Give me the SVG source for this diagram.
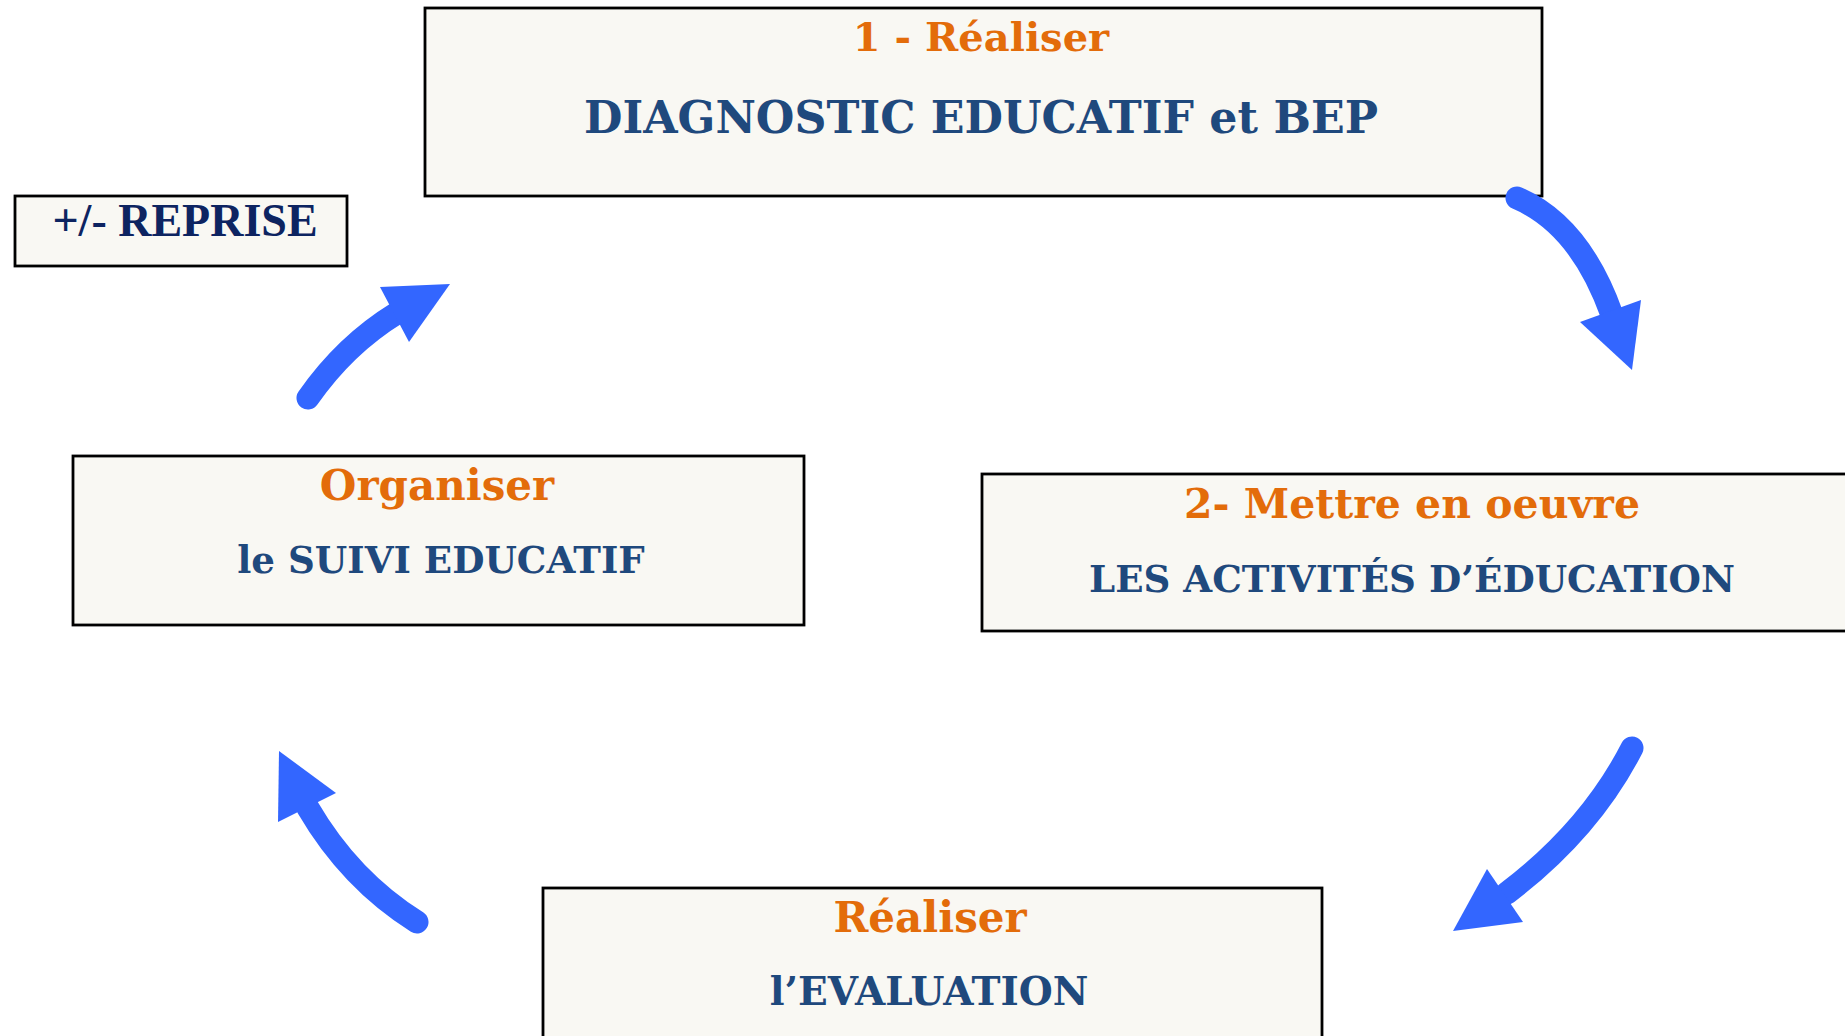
<svg xmlns="http://www.w3.org/2000/svg" width="1845" height="1036" viewBox="0 0 1845 1036">
<style>
.box{fill:#f9f8f3;stroke:#000;stroke-width:2.8}
.t1{font-family:"DejaVu Serif",serif;font-weight:bold;fill:#e36c0a;text-anchor:middle}
.t2{font-family:"DejaVu Serif",serif;font-weight:bold;fill:#1f497d;text-anchor:middle}
.rep{font-family:"Liberation Serif","Times New Roman",serif;font-weight:bold;fill:#0d2461;text-anchor:middle}
.shaft{fill:none;stroke:#3366ff;stroke-width:23;stroke-linecap:round}
.head{fill:#3366ff}
</style>
<rect width="1845" height="1036" fill="#fff"/>
<g id="node-diagnostic">
<rect class="box" x="425" y="8" width="1117" height="188"/>
<text class="t1" x="981" y="51" font-size="40">1 - Réaliser</text>
<text class="t2" x="981" y="133" font-size="44.3">DIAGNOSTIC EDUCATIF et BEP</text>
</g>
<g id="node-reprise">
<rect class="box" x="15" y="196" width="332" height="70"/>
<text class="rep" x="185" y="236" font-size="46">+/- REPRISE</text>
</g>
<g id="node-suivi">
<rect class="box" x="73" y="456" width="731" height="169"/>
<text class="t1" x="437" y="500" font-size="42">Organiser</text>
<text class="t2" x="441" y="573" font-size="37.2">le SUIVI EDUCATIF</text>
</g>
<g id="node-activites">
<rect class="box" x="982" y="474" width="870" height="157"/>
<text class="t1" x="1412" y="518" font-size="41">2- Mettre en oeuvre</text>
<text class="t2" x="1412" y="592" font-size="37.2">LES ACTIVITÉS D’ÉDUCATION</text>
</g>
<g id="node-evaluation">
<rect class="box" x="543" y="888" width="779" height="160"/>
<text class="t1" x="930" y="932" font-size="42">Réaliser</text>
<text class="t2" x="929" y="1005" font-size="39">l’EVALUATION</text>
</g>
<g id="connectors">
<path class="shaft" d="M1517,198 Q1580,225 1612,315"/>
<polygon class="head" points="1580,322 1641,300 1632,370"/>
<path class="shaft" d="M1632,748 Q1590,830 1507,893"/>
<polygon class="head" points="1487,869 1523,922 1453,931"/>
<path class="shaft" d="M417,922 Q350,880 308,808"/>
<polygon class="head" points="336,793 278,822 279,751"/>
<path class="shaft" d="M308,398 Q345,345 397,313"/>
<polygon class="head" points="380,287 450,284 409,342"/>
</g>
</svg>
